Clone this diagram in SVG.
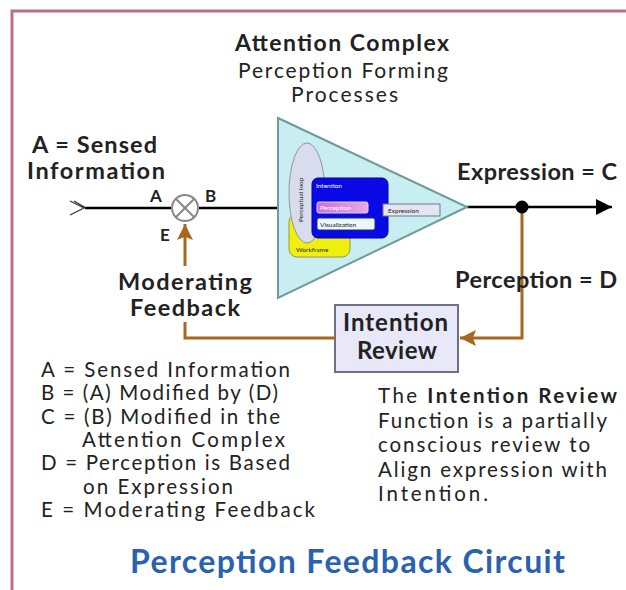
<svg xmlns="http://www.w3.org/2000/svg" width="626" height="590" viewBox="0 0 626 590">
<defs>
<marker id="arrBlack" viewBox="0 0 10 10" refX="10" refY="5" markerWidth="20" markerHeight="16" markerUnits="userSpaceOnUse" orient="auto"><path d="M0,0 L10,5 L0,10 Z" fill="#000"/></marker>
<marker id="arrBrown" viewBox="0 0 10 10" refX="10" refY="5" markerWidth="22" markerHeight="16" markerUnits="userSpaceOnUse" orient="auto"><path d="M0,0 L10,5 L0,10 L2,5 Z" fill="#a8681c"/></marker>
<linearGradient id="pinkG" x1="0" y1="0" x2="1" y2="0"><stop offset="0" stop-color="#c870e0"/><stop offset="1" stop-color="#e8a8e8"/></linearGradient>
</defs>
<style>
text{font-family:Lato,"Liberation Sans",sans-serif;fill:#222}
.b{font-weight:bold}
.lbl{font-size:23.5px;font-weight:bold}
.leg{font-size:20.5px}
.tiny{font-size:6.5px}
.fb{fill:none;stroke:#a8681c;stroke-width:3}
</style>
<rect x="0" y="0" width="626" height="590" fill="#fff"/>
<path d="M12,590 V11 H626" fill="none" stroke="#b8708e" stroke-width="3"/>

<g id="title">
<text x="235" y="51" font-size="23" class="b" textLength="214" lengthAdjust="spacing">Attention Complex</text>
<text x="238" y="78" font-size="21" textLength="210" lengthAdjust="spacing">Perception Forming</text>
<text x="291" y="102" font-size="21" textLength="107" lengthAdjust="spacing">Processes</text>
</g>

<g id="connectors">
<path d="M85,208 H171" fill="none" stroke="#000" stroke-width="2.5"/>
<path d="M70,201 L84,208 L70,215 M74,201 L86,208" fill="none" stroke="#333" stroke-width="1.2"/>
<path d="M199,208 H278" fill="none" stroke="#000" stroke-width="2.5"/>
<path d="M467,207 H612" fill="none" stroke="#000" stroke-width="2.5" marker-end="url(#arrBlack)"/>
<path d="M522,207 V338 H460" class="fb" marker-end="url(#arrBrown)"/>
<path d="M335,338 H185 V322" class="fb"/>
<path d="M185,266 V224" class="fb" marker-end="url(#arrBrown)"/>
<circle cx="522" cy="207" r="6.5" fill="#000"/>
</g>

<g id="summing-junction">
<circle cx="185" cy="208" r="13" fill="#fff" stroke="#888" stroke-width="2"/>
<path d="M176,199 L194,217 M194,199 L176,217" stroke="#888" stroke-width="2"/>
</g>

<g id="attention-complex">
<path d="M278,118 L467,207 L278,298 Z" fill="#c8eef2" stroke="#6e9a9a" stroke-width="2"/>
<rect x="289" y="214" width="61" height="43" rx="8" fill="#f0f010" stroke="#9a9a40" stroke-width="1"/>
<text x="296" y="252" class="tiny">Workframe</text>
<ellipse cx="307" cy="193" rx="18" ry="50" fill="#d8dcec" stroke="#8a9aa0" stroke-width="1"/>
<text x="0" y="0" class="tiny" transform="translate(303,222) rotate(-90)">Perceptual loop</text>
<rect x="312" y="178" width="76" height="60" rx="6" fill="#0a0ae6" stroke="#0000a0" stroke-width="1"/>
<text x="316" y="188" class="tiny" style="fill:#fff">Intention</text>
<rect x="317" y="202" width="51" height="11" rx="2" fill="url(#pinkG)" stroke="#e0d0f0" stroke-width="1"/>
<text x="320" y="210" class="tiny" style="fill:#fff">Perception</text>
<rect x="317" y="218" width="58" height="12" rx="2" fill="#e8f8fc" stroke="#203060" stroke-width="1"/>
<text x="320" y="227" class="tiny">Visualization</text>
<rect x="383" y="204" width="57" height="12" fill="#e4e4f2" stroke="#6a7a8a" stroke-width="1"/>
<text x="388" y="213" class="tiny">Expression</text>
</g>

<g id="intention-review">
<rect x="335" y="305" width="123" height="67" fill="#e8e8f8" stroke="#707080" stroke-width="2"/>
<text x="343" y="331" font-size="24" class="b" textLength="105" lengthAdjust="spacing">Intention</text>
<text x="357" y="359" font-size="24" class="b" textLength="80" lengthAdjust="spacing">Review</text>
</g>

<g id="labels">
<text x="32" y="153" class="lbl" textLength="125" lengthAdjust="spacing">A = Sensed</text>
<text x="27" y="179" class="lbl" textLength="138" lengthAdjust="spacing">Information</text>
<text x="150" y="202" font-size="17" class="b">A</text>
<text x="205" y="202" font-size="17" class="b">B</text>
<text x="160" y="241" font-size="17" class="b">E</text>
<text x="118" y="290" class="lbl" textLength="134" lengthAdjust="spacing">Moderating</text>
<text x="130" y="316" class="lbl" textLength="110" lengthAdjust="spacing">Feedback</text>
<text x="457" y="180" class="lbl" textLength="160" lengthAdjust="spacing">Expression = C</text>
<text x="455" y="288" class="lbl" textLength="162" lengthAdjust="spacing">Perception = D</text>
</g>

<g id="legend">
<text x="41" y="377" class="leg" textLength="249" lengthAdjust="spacing">A = Sensed Information</text>
<text x="41" y="400" class="leg" textLength="237" lengthAdjust="spacing">B = (A) Modified by (D)</text>
<text x="41" y="424" class="leg" textLength="239" lengthAdjust="spacing">C = (B) Modified in the</text>
<text x="82" y="447" class="leg" textLength="203" lengthAdjust="spacing">Attention Complex</text>
<text x="41" y="470" class="leg" textLength="249" lengthAdjust="spacing">D = Perception  is Based</text>
<text x="83" y="494" class="leg" textLength="150" lengthAdjust="spacing">on Expression</text>
<text x="41" y="517" class="leg" textLength="274" lengthAdjust="spacing">E = Moderating Feedback</text>
</g>

<g id="note">
<text x="378" y="403" class="leg" textLength="239" lengthAdjust="spacing">The <tspan class="b">Intention  Review</tspan></text>
<text x="378" y="428" class="leg" textLength="229" lengthAdjust="spacing">Function is a partially</text>
<text x="378" y="452" class="leg" textLength="212" lengthAdjust="spacing">conscious review to</text>
<text x="378" y="477" class="leg" textLength="229" lengthAdjust="spacing">Align expression with</text>
<text x="378" y="501" class="leg" textLength="110" lengthAdjust="spacing">Intention.</text>
</g>

<text x="130" y="573" font-size="32" class="b" style="fill:#2a62b0" textLength="435" lengthAdjust="spacing">Perception Feedback Circuit</text>
</svg>
